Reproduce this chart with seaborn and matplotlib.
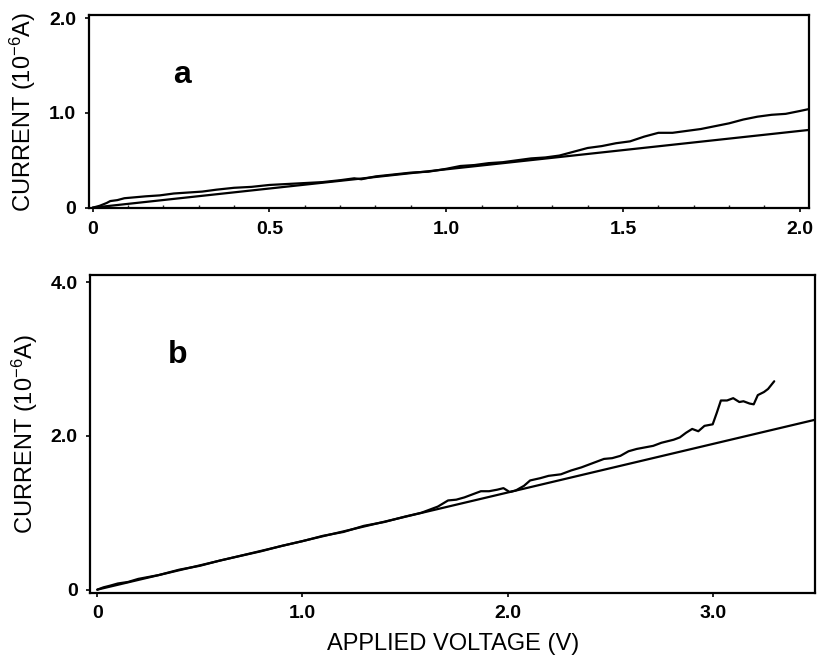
import matplotlib
matplotlib.use("Agg")
import matplotlib.pyplot as plt
import numpy as np
import pandas as pd
import seaborn as sns

# ---- panel a: measured I-V trace and linear fit ----
volt_a = [0.0, 0.02, 0.04, 0.05, 0.07, 0.09, 0.12, 0.15, 0.19, 0.23, 0.27, 0.31,
          0.35, 0.40, 0.45, 0.50, 0.55, 0.60, 0.65, 0.70, 0.74, 0.76, 0.80, 0.85,
          0.90, 0.95, 1.00, 1.04, 1.08, 1.12, 1.16, 1.20, 1.24, 1.28, 1.32, 1.36,
          1.40, 1.44, 1.48, 1.52, 1.56, 1.60, 1.64, 1.68, 1.72, 1.76, 1.80, 1.84,
          1.88, 1.92, 1.96, 2.00, 2.025]
curr_a = [0.0, 0.02, 0.05, 0.07, 0.08, 0.10, 0.11, 0.12, 0.13, 0.15, 0.16, 0.17,
          0.19, 0.21, 0.22, 0.24, 0.25, 0.26, 0.27, 0.29, 0.31, 0.30, 0.33, 0.35,
          0.37, 0.38, 0.41, 0.44, 0.45, 0.47, 0.48, 0.50, 0.52, 0.53, 0.55, 0.59,
          0.63, 0.65, 0.68, 0.70, 0.75, 0.79, 0.79, 0.81, 0.83, 0.86, 0.89, 0.93,
          0.96, 0.98, 0.99, 1.02, 1.04]
fit_volt_a = [0.0, 2.025]
fit_curr_a = [0.0, 0.82]

# ---- panel b ----
volt_b = [0.0, 0.03, 0.06, 0.1, 0.15, 0.2, 0.3, 0.4, 0.5, 0.6, 0.7, 0.8, 0.9,
          1.0, 1.1, 1.2, 1.3, 1.4, 1.5, 1.58, 1.62, 1.66, 1.71, 1.75, 1.79, 1.83,
          1.87, 1.91, 1.95, 1.98, 2.01, 2.04, 2.08, 2.11, 2.16, 2.20, 2.26, 2.31,
          2.36, 2.41, 2.47, 2.51, 2.55, 2.59, 2.63, 2.67, 2.71, 2.75, 2.78, 2.81,
          2.84, 2.87, 2.90, 2.93, 2.96, 3.00, 3.02, 3.04, 3.07, 3.10, 3.13, 3.15,
          3.18, 3.20, 3.22, 3.25, 3.27, 3.30]
curr_b = [0.0, 0.03, 0.05, 0.08, 0.10, 0.14, 0.19, 0.26, 0.31, 0.38, 0.44, 0.50,
          0.57, 0.63, 0.70, 0.75, 0.83, 0.88, 0.95, 1.00, 1.04, 1.08, 1.16, 1.17,
          1.20, 1.24, 1.28, 1.28, 1.30, 1.32, 1.27, 1.29, 1.35, 1.42, 1.45, 1.48,
          1.50, 1.55, 1.59, 1.64, 1.70, 1.71, 1.74, 1.80, 1.83, 1.85, 1.87, 1.91,
          1.93, 1.95, 1.98, 2.04, 2.09, 2.06, 2.13, 2.15, 2.30, 2.46, 2.46, 2.49,
          2.44, 2.45, 2.42, 2.41, 2.53, 2.57, 2.61, 2.71]
fit_volt_b = [0.0, 3.5]
fit_curr_b = [0.0, 2.21]

sns.set_theme(style="ticks")
plt.rcParams['font.family'] = ['Liberation Sans', 'DejaVu Sans']
plt.rcParams['mathtext.default'] = 'regular'

fig = plt.figure(figsize=(8.21, 6.63), dpi=100)
ax_a = fig.add_axes([0.108, 0.686, 0.877, 0.291])
ax_b = fig.add_axes([0.110, 0.106, 0.883, 0.479])

ylab = "CURRENT (10$^{-6}$A)"


def draw_panel(ax, v, i, fv, fi):
    df = pd.DataFrame({"V": v, "I": i})
    fit = pd.DataFrame({"V": fv, "I": fi})
    sns.lineplot(data=df, x="V", y="I", ax=ax, color="black", linewidth=1.6,
                 sort=False, estimator=None)
    sns.lineplot(data=fit, x="V", y="I", ax=ax, color="black", linewidth=1.6,
                 sort=False, estimator=None)
    for s in ax.spines.values():
        s.set_visible(True)
        s.set_color("black")
        s.set_linewidth(1.6)
    ax.tick_params(axis="both", direction="out", length=3, width=1.2,
                   labelsize=14, colors="black", pad=6)
    ax.set_ylabel(ylab, fontsize=17, color="black", labelpad=8)


# panel a
draw_panel(ax_a, volt_a, curr_a, fit_volt_a, fit_curr_a)
ax_a.set_xlim(-0.011, 2.025)
ax_a.set_ylim(-0.005, 2.03)
ax_a.set_xticks([0, 0.5, 1.0, 1.5, 2.0], ["0", "0.5", "1.0", "1.5", "2.0"],
                fontweight="bold")
ax_a.set_yticks([0, 1.0, 2.0], ["0", "1.0", "2.0"], fontweight="bold")
ax_a.set_xticks(np.arange(0.1, 2.0, 0.1), minor=True)
ax_a.tick_params(axis="x", which="minor", direction="in", length=2.5, width=1)
ax_a.set_xlabel("")
ax_a.text(0.13, 0.69, "a", transform=ax_a.transAxes, fontsize=23,
          fontweight="semibold", ha="center", va="center", color="black")

# panel b
draw_panel(ax_b, volt_b, curr_b, fit_volt_b, fit_curr_b)
ax_b.set_xlim(-0.034, 3.5)
ax_b.set_ylim(-0.04, 4.09)
ax_b.set_xticks([0, 1.0, 2.0, 3.0], ["0", "1.0", "2.0", "3.0"],
                fontweight="bold")
ax_b.set_yticks([0, 2.0, 4.0], ["0", "2.0", "4.0"], fontweight="bold")
ax_b.set_xlabel("APPLIED VOLTAGE (V)", fontsize=17, color="black", labelpad=8)
ax_b.text(0.12, 0.75, "b", transform=ax_b.transAxes, fontsize=23,
          fontweight="semibold", ha="center", va="center", color="black")

fig.savefig("out.png", dpi=100, facecolor="white")
